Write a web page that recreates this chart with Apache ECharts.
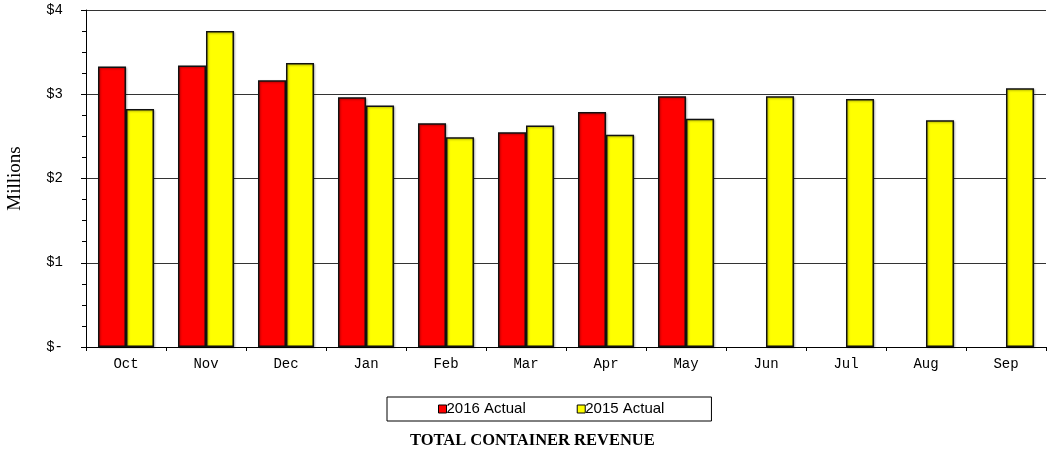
<!DOCTYPE html>
<html>
<head>
<meta charset="utf-8">
<script src="https://cdn.jsdelivr.net/npm/echarts@6/dist/echarts.min.js"></script>
<style>
  html, body { margin: 0; padding: 0; background: #fff; }
  #chart { width: 1047px; height: 452px; }
</style>
</head>
<body>
<div id="chart"></div>
<script>
const months = ["Oct", "Nov", "Dec", "Jan", "Feb", "Mar", "Apr", "May", "Jun", "Jul", "Aug", "Sep"];
// millions of dollars
const actual2016 = [3.33, 3.34, 3.165, 2.965, 2.655, 2.55, 2.79, 2.975, null, null, null, null];
const actual2015 = [2.825, 3.75, 3.37, 2.865, 2.49, 2.63, 2.52, 2.71, 2.975, 2.945, 2.69, 3.07];

const chart = echarts.init(document.getElementById("chart"), null, { renderer: "canvas" });

const barStyle = (color) => ({
  color: color,
  borderColor: "#111",
  borderWidth: 1.5,
  shadowColor: "rgba(0,0,0,0.3)",
  shadowBlur: 2,
  shadowOffsetX: 1,
  shadowOffsetY: 1,
});

chart.setOption({
  backgroundColor: "#fff",
  animation: false,
  title: {
    text: "TOTAL CONTAINER REVENUE",
    left: 410,
    top: 432,
    padding: 0,
    textStyle: {
      fontFamily: "Liberation Serif",
      fontWeight: "bold",
      fontSize: 16.5,
      color: "#000",
    },
  },
  legend: {
    left: 387,
    top: 397,
    padding: [4, 47, 4, 51],
    itemGap: 51,
    itemWidth: 8,
    itemHeight: 8,
    icon: "rect",
    borderColor: "#000",
    borderWidth: 1,
    textStyle: {
      fontFamily: "Liberation Sans",
      fontSize: 15,
      lineHeight: 16,
      color: "#000",
      padding: [0, 0, 0, -5],
    },
    data: [
      { name: "2016 Actual", itemStyle: { borderColor: "#000", borderWidth: 1 } },
      { name: "2015 Actual", itemStyle: { borderColor: "#000", borderWidth: 1 } },
    ],
  },
  grid: { left: 86, right: 1, top: 10, bottom: 105, outerBoundsMode: "none" },
  xAxis: {
    type: "category",
    data: months,
    axisLine: { lineStyle: { color: "#000", width: 1 } },
    axisTick: { show: true, length: 4, lineStyle: { color: "#000" } },
    axisLabel: {
      fontFamily: "Liberation Mono",
      fontSize: 14,
      color: "#000",
      margin: 10,
    },
  },
  yAxis: {
    type: "value",
    min: 0,
    max: 4,
    interval: 1,
    name: "Millions",
    nameLocation: "middle",
    nameGap: 61,
    nameTextStyle: { fontFamily: "Liberation Serif", fontSize: 19, color: "#000" },
    axisLine: { show: true, lineStyle: { color: "#000", width: 1 } },
    axisTick: { show: true, length: 5, lineStyle: { color: "#000" } },
    minorTick: { show: true, splitNumber: 4, length: 4, lineStyle: { color: "#000" } },
    splitLine: { show: true, lineStyle: { color: "#333", width: 1 } },
    axisLabel: {
      fontFamily: "Liberation Mono",
      fontSize: 14,
      color: "#000",
      margin: 23,
      formatter: (v) => (v === 0 ? "$-" : "$" + v),
    },
  },
  series: [
    {
      name: "2016 Actual",
      type: "bar",
      data: actual2016,
      barWidth: 28,
      barGap: "0%",
      itemStyle: barStyle("#ff0000"),
    },
    {
      name: "2015 Actual",
      type: "bar",
      data: actual2015,
      barWidth: 28,
      barGap: "0%",
      itemStyle: barStyle("#ffff00"),
    },
  ],
});
</script>
</body>
</html>
